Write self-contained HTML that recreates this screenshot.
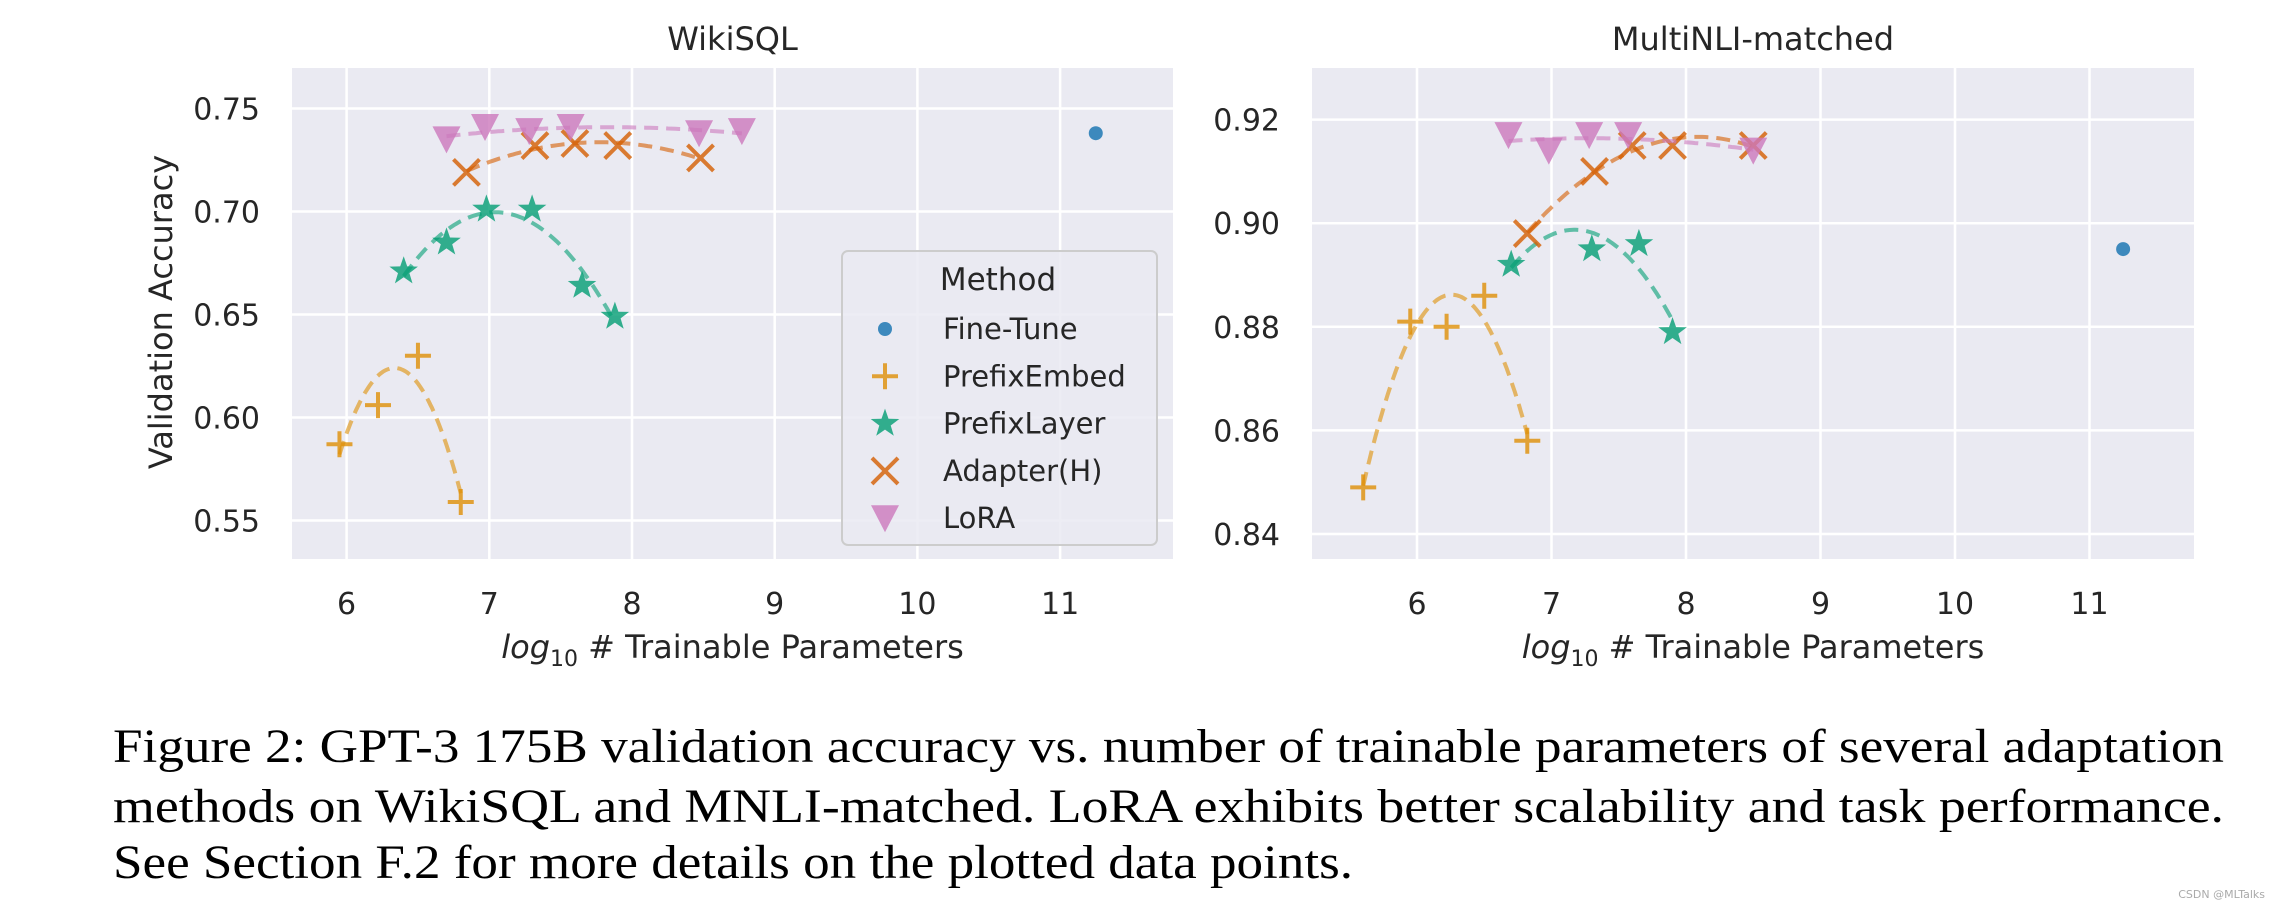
<!DOCTYPE html>
<html><head><meta charset="utf-8"><style>
html,body{margin:0;padding:0;background:#fff;}
svg{display:block;}
text{font-family:"DejaVu Sans","Liberation Sans",sans-serif;fill:#262626;}
.cap{font-family:"Liberation Serif",serif;fill:#000;font-size:48px;}
</style></head><body>
<svg id="fig" width="2280" height="910" viewBox="0 0 2280 910" xmlns="http://www.w3.org/2000/svg">
<text class="cap" x="113" y="762" textLength="2111" lengthAdjust="spacingAndGlyphs">Figure 2: GPT-3 175B validation accuracy vs. number of trainable parameters of several adaptation</text>
<text class="cap" x="113" y="822" textLength="2111" lengthAdjust="spacingAndGlyphs">methods on WikiSQL and MNLI-matched. LoRA exhibits better scalability and task performance.</text>
<text class="cap" x="113" y="878" textLength="1240" lengthAdjust="spacingAndGlyphs">See Section F.2 for more details on the plotted data points.</text>
<text x="2265" y="898" text-anchor="end" style="font-size:11px;fill:#aaa">CSDN @MLTalks</text>
</svg>
<script>
// ---- data ----
const methods = ["Fine-Tune","PrefixEmbed","PrefixLayer","Adapter(H)","LoRA"];
const xTicks = [6,7,8,9,10,11];
const wikiYTicks = [0.55,0.60,0.65,0.70,0.75];
const mnliYTicks = [0.84,0.86,0.88,0.90,0.92];
// WikiSQL
const wikiFineX=[11.25], wikiFineY=[0.738];
const wikiEmbX=[5.95,6.22,6.5,6.8], wikiEmbY=[0.587,0.606,0.630,0.559];
const wikiLayX=[6.4,6.7,6.98,7.3,7.65,7.88], wikiLayY=[0.671,0.685,0.701,0.701,0.664,0.649];
const wikiAdpX=[6.84,7.32,7.6,7.9,8.48], wikiAdpY=[0.719,0.732,0.733,0.732,0.726];
const wikiLoraX=[6.7,6.97,7.28,7.57,8.47,8.77], wikiLoraY=[0.735,0.741,0.739,0.741,0.738,0.739];
// MNLI
const mnliFineX=[11.25], mnliFineY=[0.895];
const mnliEmbX=[5.6,5.95,6.22,6.5,6.82], mnliEmbY=[0.849,0.881,0.880,0.886,0.858];
const mnliLayX=[6.7,7.3,7.65,7.9], mnliLayY=[0.892,0.895,0.896,0.879];
const mnliAdpX=[6.82,7.32,7.6,7.9,8.5], mnliAdpY=[0.898,0.910,0.915,0.915,0.915];
const mnliLoraX=[6.68,6.98,7.28,7.57,8.5], mnliLoraY=[0.917,0.914,0.917,0.917,0.914];

const NS="http://www.w3.org/2000/svg";
const svg=document.getElementById('fig');
const COL={fine:"#1f78b4",emb:"#de8f05",lay:"#029e73",adp:"#d55e00",lora:"#cc78bc"};
function mk(tag,attrs,parent){const e=document.createElementNS(NS,tag);for(const k in attrs)e.setAttribute(k,attrs[k]);(parent||svg).appendChild(e);return e;}

function fitQuad(xs,ys){
  let n=xs.length,s=[0,0,0,0,0],t=[0,0,0];
  for(let i=0;i<n;i++){let p=1;for(let k=0;k<5;k++){s[k]+=p;if(k<3)t[k]+=p*ys[i];p*=xs[i];}}
  const A=[[s[0],s[1],s[2],t[0]],[s[1],s[2],s[3],t[1]],[s[2],s[3],s[4],t[2]]];
  for(let i=0;i<3;i++){for(let j=i+1;j<3;j++){const f=A[j][i]/A[i][i];for(let k=i;k<4;k++)A[j][k]-=f*A[i][k];}}
  const c=[0,0,0];for(let i=2;i>=0;i--){let v=A[i][3];for(let k=i+1;k<3;k++)v-=A[i][k]*c[k];c[i]=v/A[i][i];}
  return x=>c[0]+c[1]*x+c[2]*x*x;
}

function marker(g,type,cx,cy,color){
  let e;
  if(type==="fine"){e=mk('circle',{cx,cy,r:7,fill:color,'fill-opacity':0.85},g);}
  else if(type==="emb"){e=mk('path',{d:`M${cx-13},${cy}H${cx+13}M${cx},${cy-13}V${cy+13}`,stroke:color,'stroke-width':4,'stroke-opacity':0.8,fill:'none'},g);}
  else if(type==="adp"){e=mk('path',{d:`M${cx-13},${cy-13}L${cx+13},${cy+13}M${cx-13},${cy+13}L${cx+13},${cy-13}`,stroke:color,'stroke-width':4,'stroke-opacity':0.8,fill:'none'},g);}
  else if(type==="lora"){e=mk('path',{d:`M${cx-14},${cy-13}H${cx+14}L${cx},${cy+14}Z`,fill:color,'fill-opacity':0.8},g);}
  else {let d="";for(let i=0;i<10;i++){const a=-Math.PI/2+i*Math.PI/5,r=i%2?6:15;d+=(i?"L":"M")+(cx+r*Math.cos(a)).toFixed(1)+","+(cy+r*Math.sin(a)).toFixed(1);}
    e=mk('path',{d:d+"Z",fill:color,'fill-opacity':0.8},g);}
  return e;
}

function panel(cfg){
  const g=mk('g',{});
  
  
  const sx=v=>cfg.x6+(v-6)*cfg.ux;
  const sy=v=>cfg.yRef+(cfg.yRefV-v)*cfg.uy;
  const bg=mk('rect',{x:cfg.L,y:68,width:cfg.R-cfg.L,height:491,fill:'#eaeaf2'},g);
  
  
  xTicks.forEach(t=>{
    const l=mk('line',{x1:sx(t),x2:sx(t),y1:68,y2:559,stroke:'#fff','stroke-width':2.5},g);
    
    
    const tx=mk('text',{x:sx(t),y:614,'text-anchor':'middle','font-size':30},g);tx.textContent=t;
    
    
  });
  cfg.yTicks.forEach(t=>{
    const l=mk('line',{x1:cfg.L,x2:cfg.R,y1:sy(t),y2:sy(t),stroke:'#fff','stroke-width':2.5},g);
    
    
    const tx=mk('text',{x:cfg.L-32,y:sy(t)+11,'text-anchor':'end','font-size':30},g);tx.textContent=t.toFixed(2);
    
    
  });
  const ti=mk('text',{x:(cfg.L+cfg.R)/2,y:50,'text-anchor':'middle','font-size':32},g);ti.textContent=cfg.title;
  
  
  const xl=mk('text',{x:(cfg.L+cfg.R)/2,y:658,'text-anchor':'middle','font-size':32},g);
  xl.innerHTML='<tspan font-style="italic">log</tspan><tspan font-size="22" dy="8">10</tspan><tspan dy="-8"> # Trainable Parameters</tspan>';
  
  
  // series
  cfg.series.forEach(s=>{
    const sg=mk('g',{},g);
    
    
    if(s.xs.length>2){
      const f=fitQuad(s.xs,s.ys);const x0=Math.min(...s.xs),x1=Math.max(...s.xs);let d="";
      for(let i=0;i<=80;i++){const x=x0+(x1-x0)*i/80;d+=(i?"L":"M")+sx(x).toFixed(1)+","+sy(f(x)).toFixed(1);}
      const p=mk('path',{d,fill:'none',stroke:COL[s.key],'stroke-width':4,'stroke-opacity':0.6,'stroke-dasharray':'14 8'},sg);
      
      
    }
    s.xs.forEach((x,i)=>{
      const m=marker(sg,s.key,sx(x),sy(s.ys[i]),COL[s.key]);
      
      
    });
  });
}

panel({name:'wikisql',title:'WikiSQL',L:292,R:1173,x6:346.6,ux:142.7,yRef:108.5,yRefV:0.75,uy:2060,yTicks:wikiYTicks,
  series:[{key:'emb',xs:wikiEmbX,ys:wikiEmbY},{key:'lay',xs:wikiLayX,ys:wikiLayY},{key:'adp',xs:wikiAdpX,ys:wikiAdpY},{key:'lora',xs:wikiLoraX,ys:wikiLoraY},{key:'fine',xs:wikiFineX,ys:wikiFineY}]});
panel({name:'mnli',title:'MultiNLI-matched',L:1312,R:2194,x6:1417,ux:134.5,yRef:119.6,yRefV:0.92,uy:5180,yTicks:mnliYTicks,
  series:[{key:'emb',xs:mnliEmbX,ys:mnliEmbY},{key:'lay',xs:mnliLayX,ys:mnliLayY},{key:'adp',xs:mnliAdpX,ys:mnliAdpY},{key:'lora',xs:mnliLoraX,ys:mnliLoraY},{key:'fine',xs:mnliFineX,ys:mnliFineY}]});

// y axis title
const yt=mk('text',{x:0,y:0,'text-anchor':'middle','font-size':32,transform:'translate(172,312) rotate(-90)'});
yt.textContent='Validation Accuracy';



// legend
const lg=mk('g',{});


mk('rect',{x:842,y:251,width:315,height:294,rx:6,fill:'#eaeaf2','fill-opacity':0.85,stroke:'#cccccc','stroke-width':2},lg);
const lt=mk('text',{x:998,y:290,'text-anchor':'middle','font-size':31},lg);lt.textContent='Method';


const keys=['fine','emb','lay','adp','lora'];
methods.forEach((m,i)=>{
  const y=329+i*47.3;
  const e=mk('g',{},lg);
  
  
  marker(e,keys[i],885,y,COL[keys[i]]);
  const t=mk('text',{x:943,y:y+10,'font-size':29},e);t.textContent=m;
});
</script>
</body></html>
